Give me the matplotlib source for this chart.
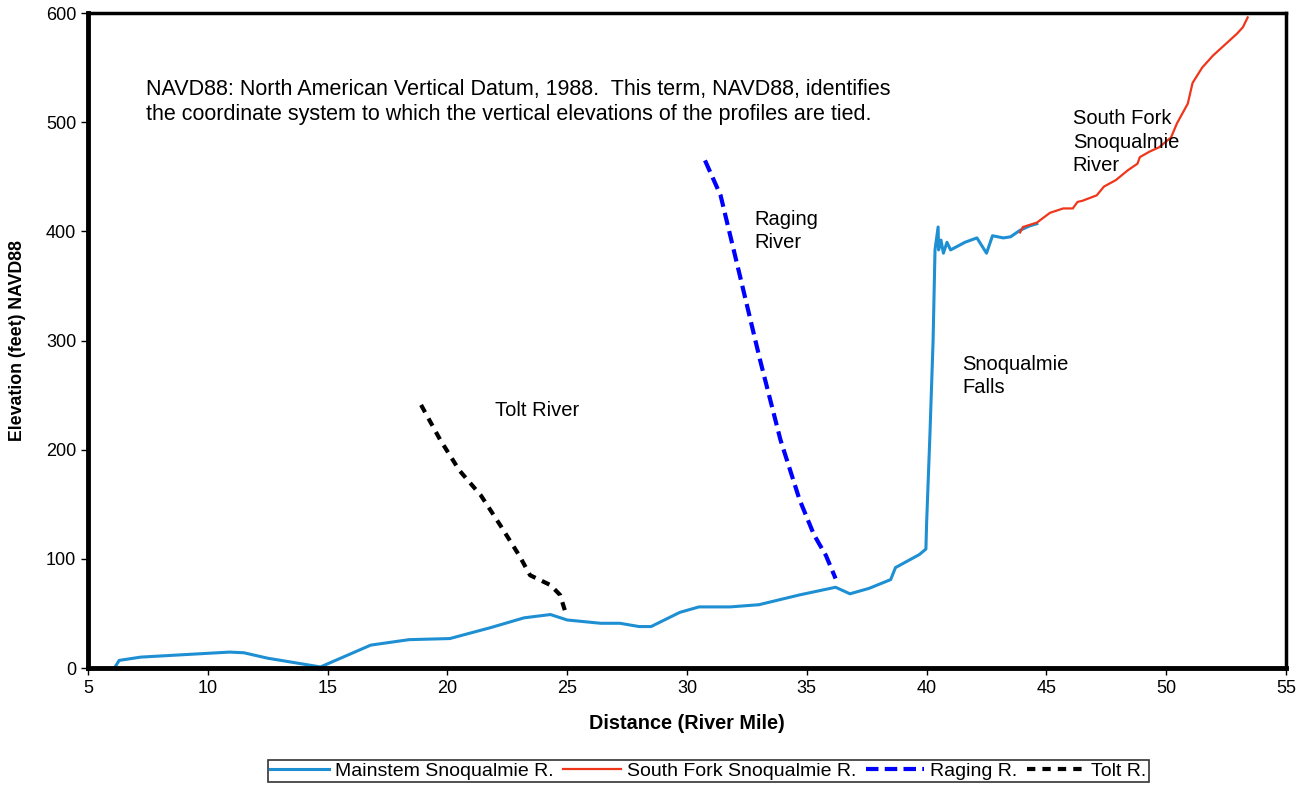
import matplotlib
matplotlib.use("Agg")
import matplotlib.pyplot as plt
import numpy as np

plt.rcParams['font.family'] = ['Liberation Sans', 'DejaVu Sans']

#=========================== DATA =============================================#
main_x = [6.1, 6.3, 7.2, 8.8, 10.9, 11.5, 12.5, 14.7, 16.8, 18.4, 20.1, 21.8, 23.2, 24.3, 25.0,
          26.4, 27.2, 28.0, 28.5, 29.7, 30.5, 31.8, 33.0, 34.7, 36.2, 36.8, 37.6, 38.5, 38.7,
          39.2, 39.7, 39.97, 40.0, 40.14, 40.27, 40.35, 40.48, 40.5, 40.6, 40.7, 40.85, 41.0,
          41.6, 42.1, 42.5, 42.75, 43.2, 43.5, 43.9, 44.3, 44.6]
main_y = [0, 7, 10, 12, 14.6, 14, 9, 1, 21, 26, 27, 37, 46, 49, 44,
          41, 41, 38, 38, 51, 56, 56, 58, 67, 74, 68, 73, 81, 92,
          98, 104, 109, 133, 215, 300, 383, 404, 383, 392, 380, 390, 383,
          390, 394, 380, 396, 394, 395, 401, 405, 407]

sfork_x = [43.9, 44.02, 44.6, 45.15, 45.7, 46.1, 46.3, 46.5, 47.1, 47.4, 47.9, 48.4, 48.8, 48.9,
           49.3, 49.7, 50.2, 50.45, 50.6, 50.9, 51.1, 51.5, 51.95, 52.5, 52.95, 53.2, 53.4]
sfork_y = [399, 404, 408, 417, 421, 421, 427, 428, 433, 441, 447, 456, 462, 468,
           473, 477, 486, 499, 505, 517, 536, 550, 561, 572, 581, 587, 596]

raging_x = [30.75, 31.4, 32.2, 33.05, 33.9, 34.7, 35.3, 35.8, 36.2]
raging_y = [465, 433, 360, 282, 209, 154, 122, 103, 82]

tolt_x = [18.9, 19.7, 20.5, 21.4, 22.2, 23.0, 23.45, 24.3, 24.7, 24.9]
tolt_y = [241, 209, 181, 158, 131, 103, 85, 76, 67, 53]

#=========================== FIGURE ===========================================#
fig = plt.figure(figsize=(13.06, 7.85), dpi=100)
ax = fig.add_axes([0.0674, 0.149, 0.9173, 0.8344])

ax.plot(main_x, main_y, color='#1E8FD2', lw=2.2, label='Mainstem Snoqualmie R.')
ax.plot(sfork_x, sfork_y, color='#F0361A', lw=1.6, label='South Fork Snoqualmie R.')
ax.plot(raging_x, raging_y, color='#0000FF', lw=3, ls=(0, (3, 1.5)), label='Raging R.')
ax.plot(tolt_x, tolt_y, color='black', lw=3, ls=(0, (2, 1.7)), label='Tolt R.')

ax.set_xlim(5, 55)
ax.set_ylim(0, 600)
ax.set_xticks(np.arange(5, 56, 5))
ax.set_yticks(np.arange(0, 601, 100))
ax.tick_params(direction='out', length=5, width=1, labelsize=13)
for s in ['left', 'bottom']:
    ax.spines[s].set_linewidth(3.5)
for s in ['top', 'right']:
    ax.spines[s].set_linewidth(2.5)

ax.set_xlabel('Distance (River Mile)', fontsize=14.3, fontweight='bold', labelpad=12)
ax.set_ylabel('Elevation (feet) NAVD88', fontsize=12.8, fontweight='bold', labelpad=14)

ax.text(7.4, 540, 'NAVD88: North American Vertical Datum, 1988.  This term, NAVD88, identifies\n'
        'the coordinate system to which the vertical elevations of the profiles are tied.',
        fontsize=15.5, va='top', ha='left', linespacing=1.25)
ax.text(46.1, 512, 'South Fork\nSnoqualmie\nRiver', fontsize=14.5, va='top', ha='left', linespacing=1.3)
ax.text(32.8, 420, 'Raging\nRiver', fontsize=14.5, va='top', ha='left', linespacing=1.3)
ax.text(41.5, 287, 'Snoqualmie\nFalls', fontsize=14.5, va='top', ha='left', linespacing=1.3)
ax.text(22.0, 236, 'Tolt River', fontsize=14.5, va='center', ha='left')

leg = fig.legend(loc='lower center', bbox_to_anchor=(0.5425, 0.004), ncol=4, fontsize=14,
                 frameon=True, fancybox=False, edgecolor='black', handlelength=3.0,
                 columnspacing=0.5, handletextpad=0.3, borderpad=0.1, borderaxespad=0.0)
leg.get_frame().set_linewidth(1.2)

fig.savefig('out.png', dpi=100)
